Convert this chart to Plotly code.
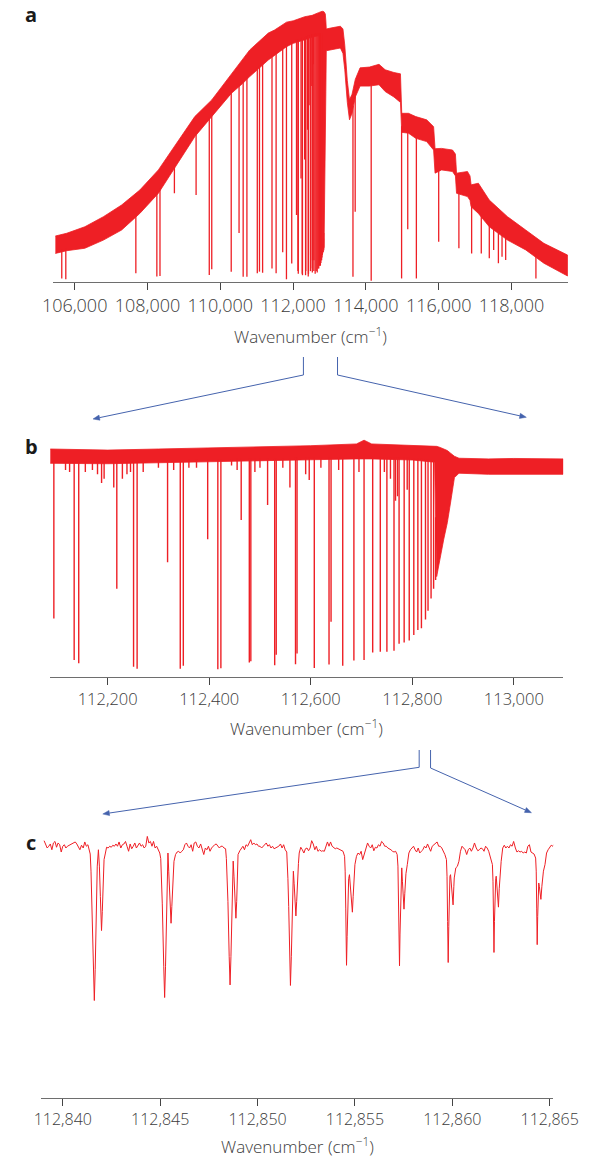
import numpy as np
import plotly.graph_objects as go

RED = "#ee1f25"
BLUE = "#4563ad"
AXIS_GREY = "#6e6e6e"
TEXT_GREY = "#3c3c3c"
FONT = "Open Sans"

# ---------------- panel a: full band ----------------
# wavenumber (cm-1), upper and lower edge of the noise band (relative intensity)
a_env_wn = [105470, 105780, 106280, 106790, 107290, 107790, 108300, 108800, 109300,
            109765, 110310, 110620, 110810, 111320, 111490, 111820, 112007, 112320,
            112524, 112700, 112790, 112800, 112850, 112870, 112885, 112900, 112912,
            113100, 113300, 113370, 113420, 113490, 113550, 113620, 113710, 113840,
            114100, 114360, 114530, 114770, 114950, 114985, 115170, 115370, 115670,
            115860, 115900, 116080, 116380, 116460, 116490, 116790, 116860, 116890,
            117090, 117390, 117890, 118390, 118890, 119540]
a_env_top = [0.169, 0.179, 0.203, 0.240, 0.283, 0.338, 0.412, 0.510, 0.608,
             0.669, 0.767, 0.822, 0.853, 0.915, 0.926, 0.955, 0.960, 0.975,
             0.980, 0.990, 0.994, 0.995, 0.993, 0.990, 0.985, 0.960, 0.930,
             0.935, 0.940, 0.930, 0.870, 0.740, 0.670, 0.690, 0.745, 0.787,
             0.790, 0.800, 0.780, 0.770, 0.765, 0.620, 0.620, 0.608, 0.596,
             0.571, 0.490, 0.491, 0.485, 0.470, 0.400, 0.406, 0.390, 0.357,
             0.363, 0.301, 0.240, 0.191, 0.142, 0.099]
a_env_bottom = [0.105, 0.115, 0.124, 0.154, 0.191, 0.252, 0.326, 0.430, 0.534,
                0.607, 0.694, 0.730, 0.755, 0.816, 0.834, 0.865, 0.877, 0.890,
                0.900, 0.905, 0.905, 0.100, 0.120, 0.260, 0.450, 0.700, 0.850,
                0.855, 0.860, 0.840, 0.780, 0.660, 0.596, 0.620, 0.680, 0.720,
                0.720, 0.725, 0.700, 0.680, 0.660, 0.550, 0.547, 0.528, 0.516,
                0.485, 0.400, 0.412, 0.406, 0.390, 0.326, 0.314, 0.300, 0.277,
                0.252, 0.203, 0.154, 0.118, 0.069, 0.022]

# absorption lines: position (cm-1) and intensity at line centre
a_lines_wn = [105646, 105757, 107681, 108258, 108344, 108740, 109336, 109698, 109766,
              110301, 110516, 110629, 110732, 111017, 111077, 111163, 111421, 111534,
              111715, 111818, 111963, 112094, 112134, 112143, 112218, 112251, 112258,
              112318, 112343, 112349, 112397, 112417, 112423, 112463, 112479, 112482,
              112515, 112529, 112532, 112559, 112570, 112573, 112607, 112636, 112663,
              112685, 112705, 112722, 112737, 112750, 112764, 112774, 112784, 112794,
              112803, 112811, 112818, 112826, 112831, 112837, 112842,
              113645, 113706, 114146, 114981, 115150, 115387, 116000, 116555, 116905,
              117170, 117390, 117510, 117640, 117740, 117840, 118671]
a_lines_min = [0.013, 0.010, 0.032, 0.020, 0.022, 0.326, 0.320, 0.026, 0.047,
               0.038, 0.180, 0.019, 0.019, 0.032, 0.038, 0.034, 0.050, 0.032,
               0.109, 0.010, 0.068, 0.246, 0.040, 0.030, 0.380, 0.030, 0.025,
               0.450, 0.025, 0.040, 0.560, 0.020, 0.030, 0.650, 0.040, 0.050,
               0.720, 0.035, 0.080, 0.800, 0.040, 0.080, 0.030, 0.040, 0.035,
               0.050, 0.050, 0.060, 0.060, 0.060, 0.070, 0.080, 0.080, 0.090,
               0.100, 0.110, 0.110, 0.120, 0.140, 0.160, 0.180,
               0.019, 0.258, 0.005, 0.013, 0.194, 0.013, 0.148, 0.124, 0.105,
               0.105, 0.087, 0.118, 0.069, 0.093, 0.081, 0.013]

# ---------------- panel b: 112,090-113,100 cm-1 ----------------
b_env_wn = [112087, 112200, 112300, 112400, 112500, 112600, 112690, 112705, 112720,
            112800, 112844, 112848, 112855, 112862, 112869, 112876, 112883, 112892,
            112950, 113000, 113097]
b_env_top = [1.035, 1.030, 1.035, 1.040, 1.045, 1.050, 1.058, 1.075, 1.058,
             1.052, 1.048, 1.047, 1.042, 1.036, 1.028, 1.015, 1.002, 0.993,
             0.990, 0.992, 0.990]
b_env_bottom = [0.970, 0.968, 0.972, 0.978, 0.982, 0.986, 0.990, 0.990, 0.990,
                0.985, 0.975, 0.455, 0.530, 0.625, 0.700, 0.800, 0.905, 0.925,
                0.920, 0.921, 0.920]

b_lines_wn = [112094, 112117, 112125, 112134, 112143, 112156, 112170, 112180, 112188,
              112193, 112212, 112218, 112229, 112238, 112245, 112251, 112258, 112270,
              112300, 112318, 112330, 112343, 112349, 112360, 112375, 112397, 112417,
              112423, 112444, 112455, 112463, 112479, 112482, 112490, 112500, 112515,
              112529, 112532, 112545, 112559, 112570, 112573, 112590, 112597, 112607,
              112620, 112636, 112640, 112655, 112663, 112685, 112695, 112705, 112722,
              112737, 112745, 112750, 112757, 112764, 112767, 112771, 112774, 112784,
              112790, 112794, 112803, 112811, 112818, 112826, 112831, 112837, 112842,
              112846]
b_lines_min = [0.265, 0.940, 0.930, 0.076, 0.061, 0.930, 0.940, 0.920, 0.880,
               0.900, 0.860, 0.400, 0.900, 0.920, 0.930, 0.045, 0.036, 0.930,
               0.950, 0.520, 0.940, 0.036, 0.050, 0.950, 0.950, 0.625, 0.034,
               0.038, 0.960, 0.940, 0.712, 0.065, 0.070, 0.930, 0.950, 0.780,
               0.052, 0.100, 0.950, 0.860, 0.057, 0.105, 0.920, 0.894, 0.040,
               0.950, 0.055, 0.250, 0.940, 0.050, 0.074, 0.930, 0.076, 0.110,
               0.113, 0.930, 0.113, 0.900, 0.118, 0.800, 0.820, 0.150, 0.155,
               0.850, 0.165, 0.190, 0.212, 0.220, 0.260, 0.300, 0.356, 0.400,
               0.440]

# ---------------- panel c: 112,839-112,865 cm-1 ----------------
c_points = [
    (112839.04, 1.021), (112839.12, 1.005), (112839.20, 0.992), (112839.28, 0.999),
    (112839.36, 1.008), (112839.44, 0.985), (112839.52, 1.012), (112839.60, 1.018),
    (112839.68, 0.995), (112839.76, 1.012), (112839.84, 1.005), (112839.92, 0.976),
    (112840.00, 0.999), (112840.08, 1.005), (112840.16, 0.992), (112840.24, 0.999),
    (112840.32, 1.003), (112840.40, 1.005), (112840.48, 1.009), (112840.56, 1.012),
    (112840.64, 1.016), (112840.72, 1.008), (112840.80, 0.999), (112840.88, 0.985),
    (112840.96, 1.003), (112841.05, 0.992), (112841.13, 1.016), (112841.21, 0.999),
    (112841.29, 1.005), (112841.37, 0.979),
    (112841.41, 0.968), (112841.45, 0.900), (112841.50, 0.770), (112841.575, 0.510),
    (112841.62, 0.386), (112841.665, 0.510), (112841.72, 0.770), (112841.77, 0.920),
    (112841.83, 0.985), (112841.88, 0.920), (112841.93, 0.800), (112841.96, 0.720),
    (112841.99, 0.664), (112842.03, 0.740), (112842.07, 0.860), (112842.12, 0.946),
    (112842.19, 0.972), (112842.25, 0.995), (112842.33, 0.992), (112842.41, 0.999),
    (112842.49, 0.995), (112842.57, 1.003), (112842.65, 0.999), (112842.73, 1.008),
    (112842.81, 0.999), (112842.89, 1.016), (112842.98, 0.992), (112843.06, 1.005),
    (112843.14, 1.008), (112843.22, 1.018), (112843.30, 0.999), (112843.38, 0.979),
    (112843.46, 1.008), (112843.54, 0.989), (112843.62, 0.999), (112843.70, 1.012),
    (112843.78, 0.992), (112843.86, 1.005), (112843.94, 1.012), (112844.02, 0.999),
    (112844.10, 1.005), (112844.18, 0.992), (112844.26, 0.999), (112844.34, 1.038),
    (112844.42, 1.012), (112844.50, 1.018), (112844.58, 0.999), (112844.66, 1.018),
    (112844.74, 0.992), (112844.82, 0.999), (112844.90, 0.985), (112844.98, 0.972),
    (112845.03, 0.950), (112845.06, 0.900), (112845.11, 0.770), (112845.185, 0.520),
    (112845.23, 0.398), (112845.275, 0.520), (112845.33, 0.770), (112845.37, 0.920),
    (112845.40, 0.972), (112845.44, 0.900), (112845.49, 0.800), (112845.53, 0.740),
    (112845.56, 0.693), (112845.60, 0.760), (112845.65, 0.870), (112845.71, 0.939),
    (112845.79, 0.966), (112845.87, 0.976), (112845.95, 0.979), (112846.03, 0.972),
    (112846.11, 0.979), (112846.19, 0.985), (112846.27, 1.005), (112846.35, 1.012),
    (112846.43, 0.999), (112846.51, 0.992), (112846.59, 1.005), (112846.67, 0.979),
    (112846.75, 1.012), (112846.83, 1.016), (112846.91, 0.999), (112846.99, 0.992),
    (112847.08, 1.008), (112847.16, 0.985), (112847.24, 0.966), (112847.32, 0.992),
    (112847.40, 0.985), (112847.48, 0.999), (112847.56, 0.979), (112847.64, 0.992),
    (112847.72, 0.999), (112847.80, 1.005), (112847.88, 1.008), (112847.96, 0.999),
    (112848.04, 0.992), (112848.12, 0.999), (112848.20, 0.999), (112848.28, 0.992),
    (112848.36, 0.989),
    (112848.40, 0.950), (112848.43, 0.900), (112848.48, 0.780), (112848.545, 0.560),
    (112848.59, 0.448), (112848.635, 0.560), (112848.69, 0.780), (112848.73, 0.910),
    (112848.75, 0.940), (112848.79, 0.880), (112848.83, 0.800), (112848.86, 0.750),
    (112848.89, 0.713), (112848.93, 0.780), (112848.96, 0.880), (112849.00, 0.966),
    (112849.09, 0.981), (112849.17, 0.992), (112849.25, 0.999), (112849.33, 0.985),
    (112849.41, 1.005), (112849.49, 0.999), (112849.57, 1.012), (112849.65, 1.025),
    (112849.73, 1.005), (112849.81, 1.012), (112849.89, 1.005), (112849.97, 1.008),
    (112850.05, 0.999), (112850.13, 0.999), (112850.21, 0.992), (112850.29, 0.999),
    (112850.37, 1.005), (112850.45, 1.012), (112850.53, 0.999), (112850.61, 1.005),
    (112850.69, 0.992), (112850.77, 0.999), (112850.85, 0.989), (112850.93, 0.992),
    (112851.01, 0.995), (112851.09, 0.999), (112851.18, 1.008), (112851.26, 0.992),
    (112851.34, 1.005), (112851.42, 0.985), (112851.50, 0.976),
    (112851.53, 0.930), (112851.56, 0.870), (112851.60, 0.760), (112851.645, 0.560),
    (112851.69, 0.446), (112851.735, 0.560), (112851.78, 0.770), (112851.82, 0.880),
    (112851.84, 0.900), (112851.88, 0.850), (112851.91, 0.790), (112851.94, 0.750),
    (112851.97, 0.722), (112852.01, 0.780), (112852.05, 0.870), (112852.10, 0.930),
    (112852.14, 0.972),
    (112852.22, 0.995), (112852.30, 0.985), (112852.38, 0.972), (112852.46, 0.989),
    (112852.54, 0.992), (112852.62, 0.981), (112852.70, 0.992), (112852.78, 1.021),
    (112852.86, 1.008), (112852.94, 0.985), (112853.02, 0.999), (112853.10, 0.979),
    (112853.19, 0.985), (112853.27, 0.979), (112853.35, 0.981), (112853.43, 0.979),
    (112853.51, 0.999), (112853.59, 1.016), (112853.67, 0.999), (112853.75, 1.016),
    (112853.83, 0.999), (112853.91, 0.992), (112853.99, 0.989), (112854.07, 0.992),
    (112854.15, 0.989), (112854.23, 0.985), (112854.31, 0.981), (112854.39, 0.979),
    (112854.47, 0.959),
    (112854.50, 0.900), (112854.53, 0.750), (112854.55, 0.620), (112854.57, 0.526),
    (112854.60, 0.640), (112854.64, 0.780), (112854.68, 0.870), (112854.72, 0.886),
    (112854.76, 0.840), (112854.80, 0.790), (112854.84, 0.760), (112854.87, 0.737),
    (112854.91, 0.800), (112854.95, 0.890), (112855.00, 0.926),
    (112855.08, 0.959), (112855.16, 0.972), (112855.24, 0.966), (112855.32, 0.979),
    (112855.40, 0.946), (112855.49, 0.968), (112855.57, 0.992), (112855.65, 1.012),
    (112855.73, 0.999), (112855.81, 0.992), (112855.89, 1.005), (112855.97, 0.981),
    (112856.05, 0.995), (112856.13, 0.992), (112856.21, 1.005), (112856.29, 0.999),
    (112856.37, 1.018), (112856.45, 1.012), (112856.53, 0.999), (112856.61, 0.999),
    (112856.69, 0.992), (112856.77, 0.989), (112856.85, 0.985), (112856.93, 0.979),
    (112857.01, 0.976), (112857.09, 0.979), (112857.17, 0.966),
    (112857.21, 0.920), (112857.24, 0.800), (112857.265, 0.650), (112857.29, 0.524),
    (112857.315, 0.650), (112857.35, 0.820), (112857.38, 0.900), (112857.405, 0.913),
    (112857.44, 0.860), (112857.47, 0.800), (112857.50, 0.760), (112857.52, 0.749),
    (112857.56, 0.810), (112857.62, 0.890), (112857.69, 0.926),
    (112857.77, 0.972), (112857.85, 0.985), (112857.93, 0.992), (112858.01, 0.999),
    (112858.09, 0.985), (112858.17, 0.976), (112858.25, 0.992), (112858.33, 0.972),
    (112858.41, 0.979), (112858.49, 0.985), (112858.57, 0.999), (112858.65, 0.992),
    (112858.73, 1.008), (112858.81, 0.992), (112858.89, 0.979), (112858.97, 0.999),
    (112859.05, 1.005), (112859.13, 1.008), (112859.22, 1.016), (112859.30, 0.999),
    (112859.38, 0.999), (112859.46, 0.992), (112859.54, 0.979), (112859.62, 0.966),
    (112859.70, 0.946),
    (112859.73, 0.880), (112859.76, 0.700), (112859.79, 0.537), (112859.82, 0.680),
    (112859.85, 0.820), (112859.88, 0.880), (112859.91, 0.886), (112859.95, 0.850),
    (112859.99, 0.800), (112860.04, 0.766), (112860.08, 0.840), (112860.10, 0.873),
    (112860.18, 0.913), (112860.26, 0.919), (112860.34, 0.939), (112860.42, 0.979),
    (112860.50, 0.999), (112860.58, 0.992), (112860.66, 0.985), (112860.74, 0.966),
    (112860.82, 0.985), (112860.90, 0.992), (112860.98, 0.979), (112861.06, 0.992),
    (112861.14, 1.012), (112861.23, 0.992), (112861.31, 0.981), (112861.39, 0.985),
    (112861.47, 0.992), (112861.55, 0.989), (112861.63, 0.979), (112861.71, 0.999),
    (112861.79, 0.992), (112861.87, 0.979), (112861.95, 0.959), (112862.06, 0.926),
    (112862.09, 0.860), (112862.115, 0.720), (112862.14, 0.577), (112862.165, 0.700),
    (112862.20, 0.830), (112862.23, 0.870), (112862.255, 0.880), (112862.29, 0.840),
    (112862.33, 0.790), (112862.37, 0.757), (112862.41, 0.830), (112862.46, 0.900),
    (112862.51, 0.939),
    (112862.59, 0.992), (112862.67, 1.003), (112862.75, 0.992), (112862.83, 0.999),
    (112862.91, 0.992), (112862.99, 1.005), (112863.07, 0.999), (112863.15, 1.018),
    (112863.24, 0.992), (112863.32, 0.976), (112863.40, 0.981), (112863.48, 0.976),
    (112863.56, 0.979), (112863.64, 0.972), (112863.72, 0.976), (112863.80, 0.972),
    (112863.88, 0.999), (112863.96, 1.005), (112864.04, 0.976), (112864.12, 0.972),
    (112864.20, 0.968), (112864.28, 0.952),
    (112864.31, 0.900), (112864.335, 0.750), (112864.36, 0.608), (112864.385, 0.720),
    (112864.41, 0.830), (112864.44, 0.853), (112864.47, 0.840), (112864.51, 0.810),
    (112864.55, 0.788), (112864.60, 0.840), (112864.68, 0.900), (112864.76, 0.926),
    (112864.84, 0.972), (112864.92, 0.985), (112865.00, 0.992), (112865.08, 1.003),
    (112865.16, 0.999), (112865.24, 1.008),
]

a_ticks = [106000, 108000, 110000, 112000, 114000, 116000, 118000]
b_ticks = [112200, 112400, 112600, 112800, 113000]
c_ticks = [112840, 112845, 112850, 112855, 112860, 112865]
axis_title = "Wavenumber (cm<sup>−1</sup>)"

W, H = 613, 1161


def px(x):
    return x / W


def py(y):
    return 1 - y / H


def band_polygon(wn, top, bottom):
    return list(wn) + list(wn)[::-1], list(top) + list(bottom)[::-1]


def line_segments(pos, mins, env_wn, env_bottom):
    xs, ys = [], []
    for p, m in zip(pos, mins):
        start = float(np.interp(p, env_wn, env_bottom)) + 0.01
        xs += [p, p, None]
        ys += [start, m, None]
    return xs, ys


fig = go.Figure()

# panel a
bx, by = band_polygon(a_env_wn, a_env_top, a_env_bottom)
fig.add_trace(go.Scatter(x=bx, y=by, fill="toself", fillcolor=RED, mode="lines",
                         line=dict(color=RED, width=0.8), xaxis="x", yaxis="y",
                         hoverinfo="skip", showlegend=False))
lx, ly = line_segments(a_lines_wn, a_lines_min, a_env_wn, a_env_bottom)
fig.add_trace(go.Scatter(x=lx, y=ly, mode="lines", line=dict(color=RED, width=1.3),
                         xaxis="x", yaxis="y", hoverinfo="skip", showlegend=False))

# panel b
bx, by = band_polygon(b_env_wn, b_env_top, b_env_bottom)
fig.add_trace(go.Scatter(x=bx, y=by, fill="toself", fillcolor=RED, mode="lines",
                         line=dict(color=RED, width=0.8), xaxis="x2", yaxis="y2",
                         hoverinfo="skip", showlegend=False))
lx, ly = line_segments(b_lines_wn, b_lines_min, b_env_wn, b_env_bottom)
fig.add_trace(go.Scatter(x=lx, y=ly, mode="lines", line=dict(color=RED, width=1.4),
                         xaxis="x2", yaxis="y2", hoverinfo="skip", showlegend=False))

# panel c
c_wn = [p[0] for p in c_points]
c_int = [p[1] for p in c_points]
fig.add_trace(go.Scatter(x=c_wn, y=c_int, mode="lines", line=dict(color=RED, width=1),
                         xaxis="x3", yaxis="y3", hoverinfo="skip", showlegend=False))


def xaxis_style(domain, rng, ticks, size, anchor):
    return dict(domain=domain, range=rng, anchor=anchor, tickvals=ticks,
                tickformat=",d", ticks="outside", ticklen=7, tickwidth=1,
                tickcolor="#444", showline=True, linecolor=AXIS_GREY, linewidth=1.3,
                showgrid=False, zeroline=False, fixedrange=True,
                tickfont=dict(family=FONT, size=size, color=TEXT_GREY, weight=300))


def yaxis_style(domain, rng, anchor):
    return dict(domain=domain, range=rng, anchor=anchor, visible=False,
                showgrid=False, zeroline=False, fixedrange=True)


fig.update_layout(
    width=W, height=H, margin=dict(l=0, r=0, t=0, b=0),
    paper_bgcolor="white", plot_bgcolor="white", showlegend=False,
    xaxis=xaxis_style([px(45), px(592.7)], [105413, 119550], a_ticks, 18, "y"),
    yaxis=yaxis_style([py(282), py(8)], [0, 1.007], "x"),
    xaxis2=xaxis_style([px(41.5), px(587.8)], [112086.4, 113097.5], b_ticks, 16.5, "y2"),
    yaxis2=yaxis_style([py(676.7), py(434.7)], [0, 1.1], "x2"),
    xaxis3=xaxis_style([px(32.3), px(577)], [112838.9, 112865.18], c_ticks, 16, "y3"),
    yaxis3=yaxis_style([py(1097.7), py(833.4)], [0, 1.05], "x3"),
)

annotations = []
# axis titles
for xc, yc in [(318.9, 336), (314.6, 727), (304.6, 1145)]:
    annotations.append(dict(x=px(xc), y=py(yc), xref="paper", yref="paper",
                            text=axis_title, showarrow=False, xanchor="center",
                            yanchor="middle",
                            font=dict(family=FONT, size=17, color=TEXT_GREY, weight=300)))
# panel letters
for letter, xc, yc in [("a", 21, 15), ("b", 22, 446), ("c", 21, 842)]:
    annotations.append(dict(x=px(xc), y=py(yc), xref="paper", yref="paper",
                            text="<b>%s</b>" % letter, showarrow=False,
                            xanchor="center", yanchor="middle",
                            font=dict(family=FONT, size=20, color="#1a1a1a")))
fig.update_layout(annotations=annotations)

# zoom brackets and arrows between panels (page pixels)
brackets = [
    # (top of stem, corner, arrow tip)
    ((311.2, 357), (311.2, 375), (87.3, 419)),
    ((347.5, 357), (347.5, 375), (548.4, 417.3)),
    ((434.4, 750), (434.4, 767.3), (97.7, 814)),
    ((446.5, 750), (446.5, 768), (553.9, 812.7)),
]
HEAD_LEN, HEAD_HALF = 7.0, 2.6
shapes = []
for (sx, sy), (cx, cy), (tx, ty) in brackets:
    d = np.array([tx - cx, ty - cy])
    d = d / np.linalg.norm(d)
    n = np.array([-d[1], d[0]])
    base = np.array([tx, ty]) - d * HEAD_LEN
    left = base + n * HEAD_HALF
    right = base - n * HEAD_HALF
    path = "M %f,%f L %f,%f L %f,%f L %f,%f" % (
        px(sx), py(sy), px(cx), py(cy), px(base[0]), py(base[1]), px(base[0]), py(base[1]))
    shapes.append(dict(type="path", xref="paper", yref="paper", path=path,
                       line=dict(color=BLUE, width=1)))
    head = "M %f,%f L %f,%f L %f,%f Z" % (px(tx), py(ty), px(left[0]), py(left[1]),
                                         px(right[0]), py(right[1]))
    shapes.append(dict(type="path", xref="paper", yref="paper", path=head,
                       fillcolor=BLUE, line=dict(color=BLUE, width=0.5)))
fig.update_layout(shapes=shapes)

fig.write_html("out.html")
